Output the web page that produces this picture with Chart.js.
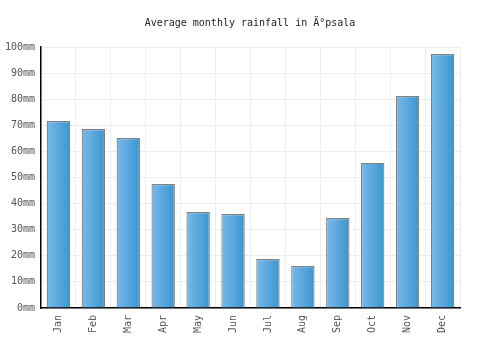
<!DOCTYPE html>
<html>
<head>
<meta charset="utf-8">
<script src="https://cdn.jsdelivr.net/npm/chart.js@4/dist/chart.umd.min.js"></script>
<style>
  body { margin: 0; background: #fff; }
  #wrap { width: 500px; height: 350px; }
</style>
</head>
<body>
<div id="wrap"><canvas id="rain"></canvas></div>
<script>
// Chart data
const months = ['Jan', 'Feb', 'Mar', 'Apr', 'May', 'Jun', 'Jul', 'Aug', 'Sep', 'Oct', 'Nov', 'Dec'];
const rainfall = [71.6, 68.6, 65.1, 47.5, 36.8, 36.0, 18.8, 16.1, 34.5, 55.6, 81.2, 97.3];
const yTicks = [0, 10, 20, 30, 40, 50, 60, 70, 80, 90, 100];

const barPct = 0.67;

// horizontal gradient across each bar
function barGradient(context) {
    const chart = context.chart;
    const xScale = chart.scales.x;
    if (!chart.chartArea || !xScale || context.dataIndex === undefined) {
        return '#58a8df';
    }
    const center = xScale.getPixelForValue(context.dataIndex);
    const half = (chart.chartArea.width / months.length) * barPct / 2;
    const g = chart.ctx.createLinearGradient(center - half, 0, center + half, 0);
    g.addColorStop(0, '#7ab8ea');
    g.addColorStop(1, '#3996cf');
    return g;
}

const ctx = document.getElementById('rain').getContext('2d');
const rainChart = new Chart(ctx, {
    type: 'bar',
    data: {
        labels: months,
        datasets: [{
            data: rainfall,
            backgroundColor: barGradient,
            borderColor: '#808080',
            borderWidth: 1.2,
            categoryPercentage: 1,
            barPercentage: barPct
        }]
    },
    options: {
        responsive: true,
        maintainAspectRatio: false,
        animation: false,
        layout: { padding: 0 },
        plugins: {
            legend: { display: false },
            tooltip: { enabled: false },
            title: {
                display: true,
                text: 'Average monthly rainfall in Ä°psala',
                color: '#222',
                font: { family: 'DejaVu Sans Mono', size: 10, weight: 'normal' },
                padding: { top: 17, bottom: 18 }
            }
        },
        scales: {
            x: {
                grid: { color: '#eeeeee', offset: true, drawTicks: false },
                border: { color: '#000', width: 1.5 },
                ticks: {
                    color: '#555',
                    font: { family: 'DejaVu Sans Mono', size: 10 },
                    maxRotation: 90,
                    minRotation: 90,
                    padding: 7
                },
                afterFit: function(scale) { scale.height = 42; }
            },
            y: {
                min: 0,
                max: 100,
                afterBuildTicks: function(scale) {
                    scale.ticks = yTicks.map(v => ({ value: v }));
                },
                grid: { color: '#eeeeee', drawTicks: false },
                border: { color: '#000', width: 1.5 },
                ticks: {
                    color: '#555',
                    font: { family: 'DejaVu Sans Mono', size: 10 },
                    padding: 6,
                    callback: function(value) { return value + 'mm'; }
                },
                afterFit: function(scale) { scale.width = 41; }
            },
            // empty right-hand axis, only reserves the right margin
            yRight: {
                position: 'right',
                min: 0,
                max: 100,
                grid: { display: false, drawTicks: false },
                border: { display: false },
                ticks: { display: false },
                afterFit: function(scale) { scale.width = 40; }
            }
        }
    }
});
</script>
</body>
</html>
